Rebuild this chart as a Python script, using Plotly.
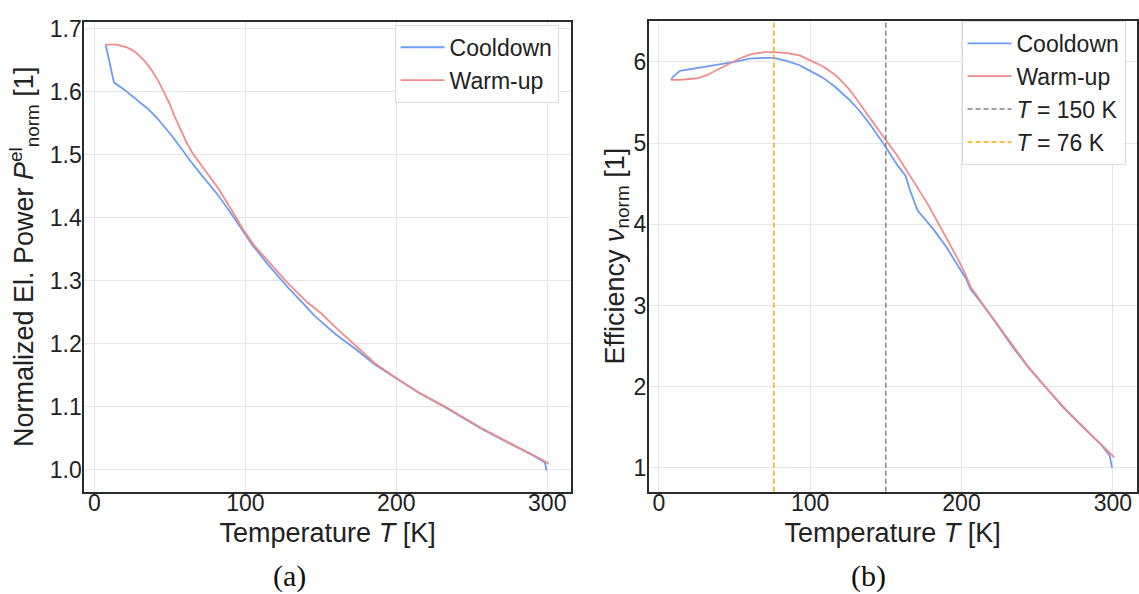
import plotly.graph_objects as go

# ---------------- data ----------------
# (a) normalized electrical power vs temperature
T_a_cool = [7.5, 13, 20, 29, 35, 41, 46, 51, 57, 64, 72, 82, 90, 97, 105, 114, 121, 128,
            138, 146, 160, 173, 186, 200, 215, 232, 256, 275, 290, 297, 298.5, 299.5]
P_a_cool = [1.675, 1.615, 1.603, 1.586, 1.574, 1.560, 1.546, 1.531, 1.512, 1.489, 1.465,
            1.436, 1.409, 1.384, 1.356, 1.329, 1.309, 1.290, 1.265, 1.244, 1.215, 1.192,
            1.167, 1.145, 1.122, 1.100, 1.066, 1.042, 1.024, 1.014, 1.011, 0.999]
T_a_warm = [7.5, 15, 22, 26, 30, 34, 37.5, 42, 46, 50, 53, 57, 61, 65, 70, 76, 82, 90, 99,
            106, 114, 128, 141, 150, 160, 173, 186, 200, 215, 232, 256, 275, 290, 297, 301]
P_a_warm = [1.675, 1.675, 1.670, 1.665, 1.657, 1.647, 1.636, 1.619, 1.600, 1.580, 1.562,
            1.540, 1.520, 1.503, 1.486, 1.466, 1.447, 1.416, 1.380, 1.356, 1.335, 1.297,
            1.266, 1.249, 1.226, 1.197, 1.169, 1.146, 1.123, 1.101, 1.067, 1.043, 1.025,
            1.016, 1.010]

# (b) normalized efficiency vs temperature
T_b_cool = [8, 10, 14, 20, 30, 40, 50, 60, 70, 76, 85, 93, 100, 108, 116, 125, 133, 140,
            150, 158, 163, 166, 171, 175, 181, 190, 198, 203, 206, 214, 223, 233, 244,
            255, 266, 276, 284, 292, 296, 298, 299.5]
v_b_cool = [5.78, 5.83, 5.89, 5.91, 5.94, 5.97, 6.00, 6.04, 6.05, 6.05, 6.01, 5.96, 5.89,
            5.81, 5.70, 5.55, 5.39, 5.22, 4.95, 4.72, 4.60, 4.42, 4.17, 4.08, 3.95, 3.72,
            3.48, 3.33, 3.20, 3.01, 2.78, 2.51, 2.24, 2.00, 1.77, 1.58, 1.43, 1.29, 1.20,
            1.15, 1.00]
T_b_warm = [8, 14, 20, 26, 32, 38, 45, 53, 60, 65, 70, 76, 85, 93, 100, 108, 116, 120,
            125, 130, 136, 142, 150, 157, 163, 170, 178, 185, 192, 198, 203, 206, 214, 223,
            233, 244, 255, 266, 276, 284, 292, 297, 301]
v_b_warm = [5.78, 5.78, 5.79, 5.80, 5.84, 5.90, 5.97, 6.04, 6.09, 6.11, 6.12, 6.12, 6.11,
            6.08, 6.02, 5.95, 5.85, 5.78, 5.68, 5.56, 5.40, 5.24, 5.04, 4.86, 4.69, 4.48,
            4.24, 4.00, 3.77, 3.56, 3.37, 3.23, 3.02, 2.79, 2.52, 2.25, 2.01, 1.78, 1.59,
            1.44, 1.30, 1.20, 1.13]

T_marks = [150, 76]
mark_names = ["<i>T</i> = 150 K", "<i>T</i> = 76 K"]

x_ticks = [0, 100, 200, 300]
y_ticks_a = [1.0, 1.1, 1.2, 1.3, 1.4, 1.5, 1.6, 1.7]
y_ticks_b = [1, 2, 3, 4, 5, 6]

X_RANGE = [-6.65, 315.65]
Y_RANGE_A = [0.9655, 1.711]
Y_RANGE_B = [0.707, 6.51]

# ---------------- style ----------------
BLUE = "#6d9cf2"
RED = "#f28b8b"
GRAY = "#808080"
ORANGE = "#ffa500"
FRAME = "#2b2b2b"
GRID = "#e6e6e6"
TXT = "#222222"
SANS = "Liberation Sans, Arial, sans-serif"
SERIF = "Liberation Serif, Times New Roman, serif"

W, H = 1139, 594

fig = go.Figure()

fig.add_trace(go.Scatter(x=T_a_cool, y=P_a_cool, mode="lines", name="Cooldown",
                         line=dict(color=BLUE, width=1.8), xaxis="x", yaxis="y",
                         legend="legend"))
fig.add_trace(go.Scatter(x=T_a_warm, y=P_a_warm, mode="lines", name="Warm-up",
                         line=dict(color=RED, width=1.8), xaxis="x", yaxis="y",
                         legend="legend"))

fig.add_trace(go.Scatter(x=T_b_cool, y=v_b_cool, mode="lines", name="Cooldown",
                         line=dict(color=BLUE, width=1.8), xaxis="x2", yaxis="y2",
                         legend="legend2"))
fig.add_trace(go.Scatter(x=T_b_warm, y=v_b_warm, mode="lines", name="Warm-up",
                         line=dict(color=RED, width=1.8), xaxis="x2", yaxis="y2",
                         legend="legend2"))
for t, nm, col in zip(T_marks, mark_names, [GRAY, ORANGE]):
    fig.add_trace(go.Scatter(x=[t, t], y=Y_RANGE_B, mode="lines", name=nm,
                             line=dict(color=col, width=1.5, dash="5px,3px"),
                             xaxis="x2", yaxis="y2", legend="legend2"))

def xax(domain, anchor):
    return dict(domain=domain, anchor=anchor, range=X_RANGE, tickvals=x_ticks,
                showgrid=True, gridcolor=GRID, gridwidth=1, zeroline=False,
                showline=True, linecolor=FRAME, linewidth=2, mirror=True,
                ticks="", ticklabelstandoff=-10,
                tickfont=dict(family=SANS, size=23, color=TXT),
                title=dict(text="Temperature <i>T</i> [K]",
                           font=dict(family=SANS, size=27, color=TXT), standoff=8))

def yax(domain, anchor, rng, vals, title, fmt, standoff):
    return dict(domain=domain, anchor=anchor, range=rng, tickvals=vals, tickformat=fmt,
                showgrid=True, gridcolor=GRID, gridwidth=1, zeroline=False,
                showline=True, linecolor=FRAME, linewidth=2, mirror=True,
                ticks="", ticklabelstandoff=-4,
                tickfont=dict(family=SANS, size=23, color=TXT),
                title=dict(text=title, font=dict(family=SANS, size=27, color=TXT),
                           standoff=standoff))

yb = 1 - 490.7 / H
fig.update_layout(
    width=W, height=H,
    margin=dict(l=0, r=0, t=0, b=0),
    paper_bgcolor="white", plot_bgcolor="white",
    font=dict(family=SANS, color=TXT),
    xaxis=xax([84.3 / W, 570.9 / W], "y"),
    yaxis=yax([yb, 1 - 16 / H], "x", Y_RANGE_A, y_ticks_a,
              "Normalized El. Power <i>P</i><sup>el</sup><sub>norm</sub> [1]", ".1f", 8),
    xaxis2=xax([648.8 / W, 1136.5 / W], "y2"),
    yaxis2=yax([yb, 1 - 14.7 / H], "x2", Y_RANGE_B, y_ticks_b,
               "Efficiency <i>ν</i><sub>norm</sub> [1]", "d", 0),
    legend=dict(x=558.6 / W, y=1 - 19 / H, xanchor="right", yanchor="top",
                bgcolor="rgba(255,255,255,0.85)", bordercolor="#dcdcdc", borderwidth=1,
                font=dict(family=SANS, size=23, color=TXT), itemwidth=44),
    legend2=dict(x=1125.5 / W, y=1 - 15 / H, xanchor="right", yanchor="top",
                 bgcolor="rgba(255,255,255,0.85)", bordercolor="#dcdcdc", borderwidth=1,
                 font=dict(family=SANS, size=23, color=TXT), itemwidth=44),
    annotations=[
        dict(text="(a)", x=289.5 / W, y=1 - 576 / H, xref="paper", yref="paper",
             showarrow=False, xanchor="center", yanchor="middle",
             font=dict(family=SERIF, size=30, color="#111111")),
        dict(text="(b)", x=868 / W, y=1 - 576 / H, xref="paper", yref="paper",
             showarrow=False, xanchor="center", yanchor="middle",
             font=dict(family=SERIF, size=30, color="#111111")),
    ],
)

fig.write_html("out.html")
